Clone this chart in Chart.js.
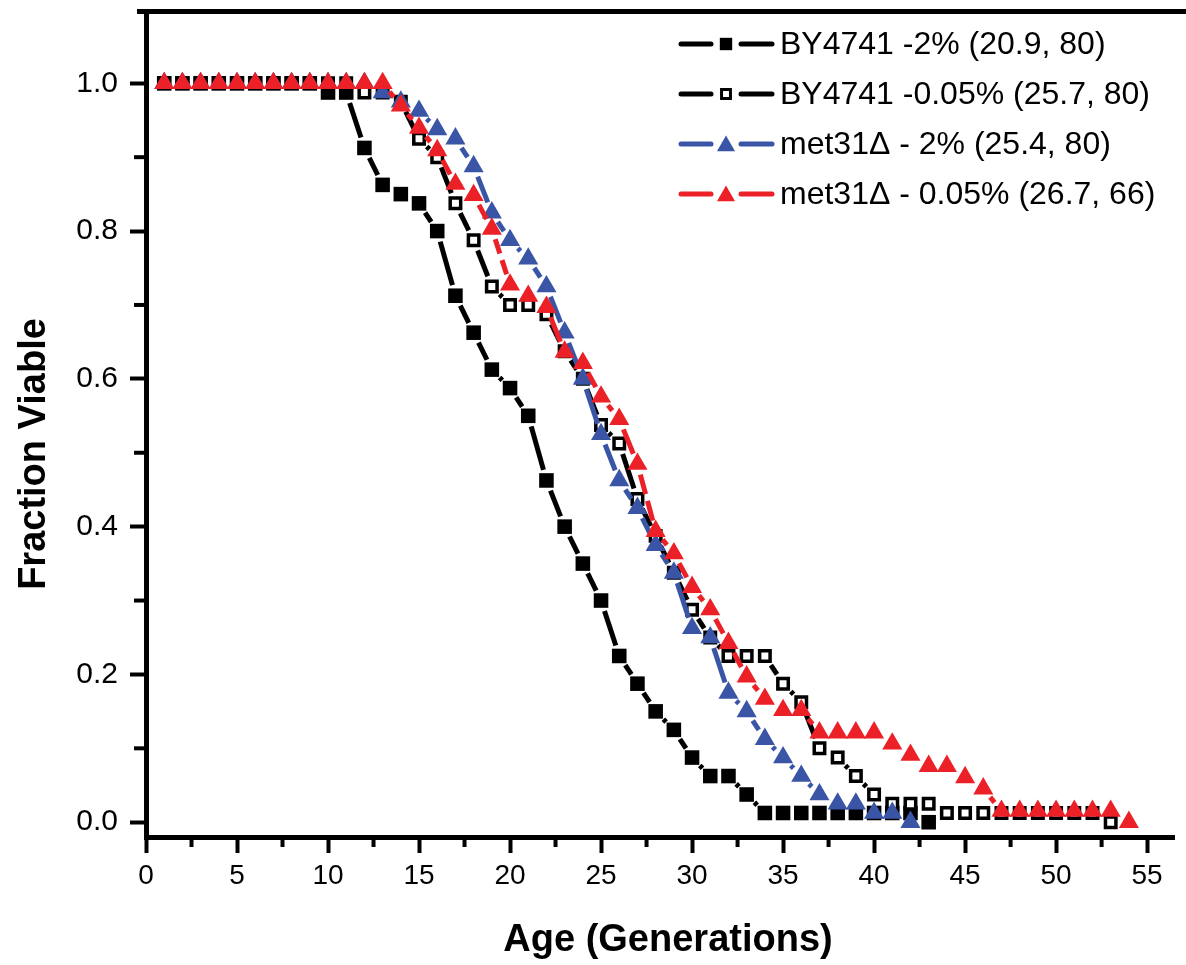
<!DOCTYPE html>
<html>
<head>
<meta charset="utf-8">
<script src="https://cdn.jsdelivr.net/npm/chart.js@4.4.1/dist/chart.umd.min.js"></script>
<style>
html,body{margin:0;padding:0;background:#ffffff;overflow:hidden;}
#wrap{width:1186px;height:965px;position:relative;}
</style>
</head>
<body>
<div id="wrap"><canvas id="c"></canvas></div>
<script>
// ---- data ----
const ageBY2 = [1,2,3,4,5,6,7,8,9,10,11,12,13,14,15,16,17,18,19,20,21,22,23,24,25,26,27,28,29,30,31,32,33,34,35,36,37,38,39,40,41,42,43];
const fvBY2 = [1,1,1,1,1,1,1,1,1,0.9875,0.9875,0.9125,0.8625,0.85,0.8375,0.8,0.7125,0.6625,0.6125,0.5875,0.55,0.4625,0.4,0.35,0.3,0.225,0.1875,0.15,0.125,0.0875,0.0625,0.0625,0.0375,0.0125,0.0125,0.0125,0.0125,0.0125,0.0125,0.0125,0.0125,0.0125,0];

const ageBY005 = [1,2,3,4,5,6,7,8,9,10,11,12,13,14,15,16,17,18,19,20,21,22,23,24,25,26,27,28,29,30,31,32,33,34,35,36,37,38,39,40,41,42,43,44,45,46,47,48,49,50,51,52,53];
const fvBY005 = [1,1,1,1,1,1,1,1,1,1,1,0.9875,0.9875,0.975,0.925,0.9,0.8375,0.7875,0.725,0.7,0.7,0.6875,0.6375,0.6,0.5375,0.5125,0.4375,0.3875,0.3375,0.2875,0.25,0.225,0.225,0.225,0.1875,0.1625,0.1,0.0875,0.0625,0.0375,0.025,0.025,0.025,0.0125,0.0125,0.0125,0.0125,0.0125,0.0125,0.0125,0.0125,0.0125,0];

const ageMet2 = [1,2,3,4,5,6,7,8,9,10,11,12,13,14,15,16,17,18,19,20,21,22,23,24,25,26,27,28,29,30,31,32,33,34,35,36,37,38,39,40,41,42];
const fvMet2 = [1,1,1,1,1,1,1,1,1,1,1,1,0.9875,0.975,0.9625,0.9375,0.925,0.8875,0.825,0.7875,0.7625,0.725,0.6625,0.6,0.525,0.4625,0.425,0.375,0.3375,0.2625,0.25,0.175,0.15,0.1125,0.0875,0.0625,0.0375,0.025,0.025,0.0125,0.0125,0];

const ageMet005 = [1,2,3,4,5,6,7,8,9,10,11,12,13,14,15,16,17,18,19,20,21,22,23,24,25,26,27,28,29,30,31,32,33,34,35,36,37,38,39,40,41,42,43,44,45,46,47,48,49,50,51,52,53,54];
const fvMet005 = [1,1,1,1,1,1,1,1,1,1,1,1,1,0.9697,0.9394,0.9091,0.8636,0.8485,0.803,0.7273,0.7121,0.697,0.6364,0.6212,0.5758,0.5455,0.4848,0.3939,0.3636,0.3182,0.2879,0.2424,0.197,0.1667,0.1515,0.1515,0.1212,0.1212,0.1212,0.1212,0.1061,0.0909,0.0758,0.0758,0.0606,0.0455,0.0152,0.0152,0.0152,0.0152,0.0152,0.0152,0.0152,0];

const seriesLabels = ["BY4741 -2% (20.9, 80)", "BY4741 -0.05% (25.7, 80)", "met31\u0394 - 2% (25.4, 80)", "met31\u0394 - 0.05% (26.7, 66)"];

const xMajorTicks = [0,5,10,15,20,25,30,35,40,45,50,55];
const xMinorTicks = [2.5,7.5,12.5,17.5,22.5,27.5,32.5,37.5,42.5,47.5,52.5];
const yMajorTicks = [0.0,0.2,0.4,0.6,0.8,1.0];
const yMinorTicks = [0.1,0.3,0.5,0.7,0.9];

const xTitle = "Age (Generations)";
const yTitle = "Fraction Viable";

// ---- styles ----
const BLUE = '#3a55a6';
const RED = '#ec2027';
const BLACK = '#000000';
const FONT = '"Liberation Sans", Arial, Helvetica, sans-serif';

function pts(xs, ys){ return xs.map((x,i)=>({x:x, y:ys[i]})); }

const seriesStyle = [
  {color:BLACK, marker:'rect', radius:10.3, fill:BLACK, bw:0, dash:null, order:3, gap:11},
  {color:BLACK, marker:'rect', radius:7.4, fill:'#ffffff', bw:3.5, dash:null, order:2, gap:11},
  {color:BLUE, marker:'triangle', radius:11.6, fill:BLUE, bw:0, dash:[22,7], order:1, gap:11},
  {color:RED, marker:'triangle', radius:11.6, fill:RED, bw:0, dash:[22,7], order:0, gap:11}
];
const seriesData = [pts(ageBY2,fvBY2), pts(ageBY005,fvBY005), pts(ageMet2,fvMet2), pts(ageMet005,fvMet005)];

const datasets = seriesData.map((d,i)=>{
  const s = seriesStyle[i];
  return {
    label: seriesLabels[i],
    data: d,
    showLine: false,
    order: s.order,
    pointStyle: s.marker,
    pointRadius: s.radius,
    pointHoverRadius: s.radius,
    pointBackgroundColor: s.fill,
    pointBorderColor: s.color,
    pointBorderWidth: s.bw,
    borderColor: s.color,
    backgroundColor: s.fill,
    clip: false,
    _lineColor: s.color,
    _dash: s.dash,
    _gap: s.gap
  };
});

// lines between markers, with a gap around each marker
const gapLines = {
  id: 'gapLines',
  beforeDatasetDraw(chart, args) {
    const ds = chart.data.datasets[args.index];
    const p = args.meta.data;
    const ctx = chart.ctx;
    ctx.save();
    ctx.strokeStyle = ds._lineColor;
    ctx.lineWidth = 5;
    ctx.lineCap = 'butt';
    const g = ds._gap;
    for (let i = 0; i < p.length - 1; i++) {
      const a = p[i], b = p[i+1];
      const dx = b.x - a.x, dy = b.y - a.y, L = Math.hypot(dx, dy);
      if (L <= 2*g + 1) continue;
      const ux = dx / L, uy = dy / L;
      const V = L - 2*g;
      if (ds._dash) {
        const on = ds._dash[0], off = ds._dash[1];
        const n = Math.max(1, Math.round((V + off) / (on + off)));
        const d = (V - (n - 1) * off) / n;
        ctx.setLineDash(n > 1 ? [d, off] : []);
      } else {
        ctx.setLineDash([]);
      }
      ctx.beginPath();
      ctx.moveTo(a.x + ux*g, a.y + uy*g);
      ctx.lineTo(b.x - ux*g, b.y - uy*g);
      ctx.stroke();
    }
    ctx.restore();
  }
};

function drawMarker(ctx, s, x, y, scale) {
  const r = s.radius * scale;
  ctx.save();
  ctx.fillStyle = s.fill;
  ctx.strokeStyle = s.color;
  ctx.lineWidth = s.bw * scale;
  ctx.beginPath();
  if (s.marker === 'rect') {
    const h = Math.SQRT1_2 * r;
    ctx.rect(x - h, y - h, 2*h, 2*h);
  } else {
    ctx.moveTo(x, y - r);
    ctx.lineTo(x + r*Math.sin(2*Math.PI/3), y - r*Math.cos(2*Math.PI/3));
    ctx.lineTo(x + r*Math.sin(4*Math.PI/3), y - r*Math.cos(4*Math.PI/3));
    ctx.closePath();
  }
  ctx.fill();
  if (s.bw > 0) ctx.stroke();
  ctx.restore();
}

const decorations = {
  id: 'decorations',
  afterDraw(chart) {
    const ctx = chart.ctx;
    const xs = chart.scales.x, ys = chart.scales.y;
    const ca = chart.chartArea;
    ctx.save();
    ctx.strokeStyle = BLACK;
    // minor ticks
    ctx.lineWidth = 4;
    yMinorTicks.forEach(v => {
      const py = ys.getPixelForValue(v);
      ctx.beginPath(); ctx.moveTo(ca.left - 2, py); ctx.lineTo(ca.left - 12, py); ctx.stroke();
    });
    xMinorTicks.forEach(v => {
      const px = xs.getPixelForValue(v);
      ctx.beginPath(); ctx.moveTo(px, ca.bottom + 2); ctx.lineTo(px, ca.bottom + 10); ctx.stroke();
    });
    // top frame line
    ctx.lineWidth = 5;
    ctx.beginPath(); ctx.moveTo(ca.left - 9, ca.top); ctx.lineTo(chart.width, ca.top); ctx.stroke();
    // axis titles
    ctx.fillStyle = BLACK;
    ctx.font = 'bold 38px ' + FONT;
    ctx.textAlign = 'center';
    ctx.textBaseline = 'middle';
    ctx.fillText(xTitle, 668, 941);
    ctx.save();
    ctx.translate(35, 454);
    ctx.rotate(-Math.PI / 2);
    ctx.fillText(yTitle, 0, 0);
    ctx.restore();
    // legend
    ctx.font = '32px ' + FONT;
    ctx.textBaseline = 'middle';
    ctx.textAlign = 'left';
    for (let i = 0; i < seriesLabels.length; i++) {
      const s = seriesStyle[i];
      const y = 44 + i * 50;
      ctx.strokeStyle = s.color;
      ctx.lineWidth = 5;
      ctx.lineCap = 'round';
      ctx.setLineDash([]);
      ctx.beginPath(); ctx.moveTo(681, y); ctx.lineTo(711, y); ctx.stroke();
      ctx.beginPath(); ctx.moveTo(741, y); ctx.lineTo(772, y); ctx.stroke();
      drawMarker(ctx, s, 726, y + (s.marker === 'triangle' ? 2 : 0), s.marker === 'triangle' ? 0.9 : 0.85);
      ctx.fillStyle = BLACK;
      ctx.fillText(seriesLabels[i], 780, y + 1);
    }
    ctx.restore();
  }
};

new Chart(document.getElementById('c'), {
  type: 'scatter',
  data: { datasets: datasets },
  options: {
    responsive: true,
    maintainAspectRatio: false,
    animation: false,
    devicePixelRatio: 1,
    layout: { padding: { top: 10, right: 0, left: 0, bottom: 0 } },
    plugins: { legend: { display: false }, tooltip: { enabled: false } },
    scales: {
      x: {
        type: 'linear',
        min: 0,
        max: 56.5,
        afterFit(s) { s.height = 128; s.paddingLeft = 0; s.paddingRight = 0; },
        afterBuildTicks(s) { s.ticks = xMajorTicks.map(v => ({ value: v })); },
        border: { display: true, width: 5, color: BLACK },
        grid: { drawOnChartArea: false, drawTicks: true, tickLength: 16, tickWidth: 4, tickColor: BLACK },
        ticks: {
          autoSkip: false, maxRotation: 0, padding: 6, color: BLACK,
          font: { family: FONT, size: 28 },
          callback: v => String(v)
        },
        title: { display: false }
      },
      y: {
        type: 'linear',
        min: -0.02,
        max: 1.097,
        afterFit(s) { s.width = 146; s.paddingTop = 0; s.paddingBottom = 0; },
        afterBuildTicks(s) { s.ticks = yMajorTicks.map(v => ({ value: v })); },
        border: { display: true, width: 5, color: BLACK },
        grid: { drawOnChartArea: false, drawTicks: true, tickLength: 16, tickWidth: 4, tickColor: BLACK },
        ticks: {
          autoSkip: false, padding: 12, color: BLACK,
          font: { family: FONT, size: 30 },
          callback: v => Number(v).toFixed(1)
        },
        title: { display: false }
      }
    }
  },
  plugins: [gapLines, decorations]
});
</script>
</body>
</html>
